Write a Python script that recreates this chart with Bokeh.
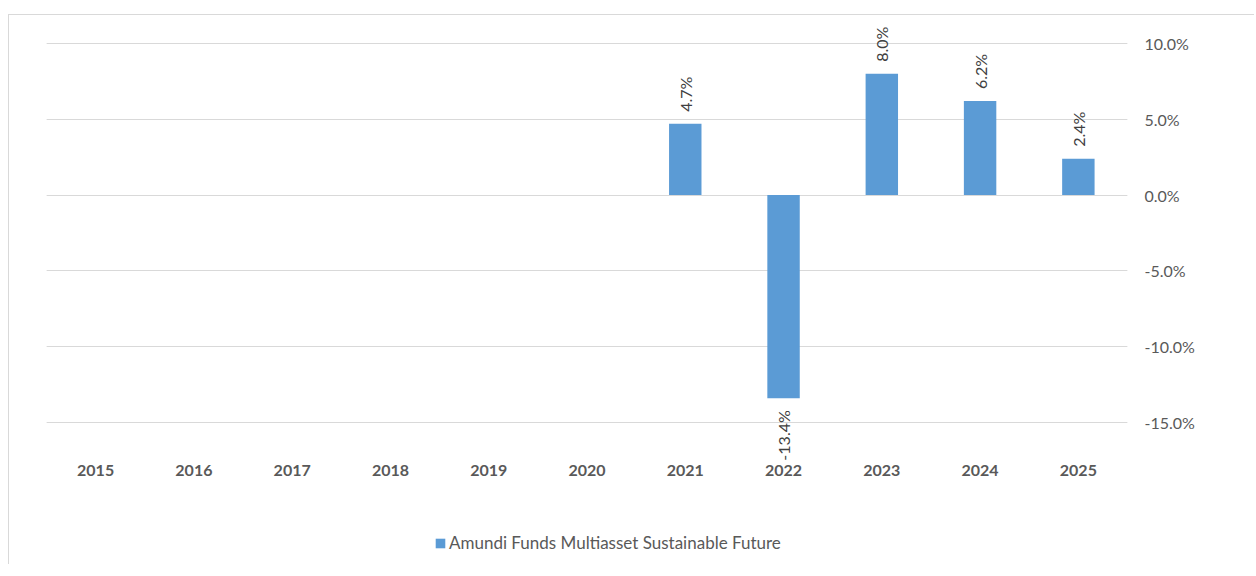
from bokeh.plotting import figure
from bokeh.layouts import column
from bokeh.models import (FactorRange, ColumnDataSource, LabelSet, FixedTicker, Grid,
                          NumeralTickFormatter, LinearAxis, Legend, LegendItem, Range1d)
from bokeh.core.properties import value
from bokeh.embed import file_html
from bokeh.resources import INLINE
import math

years = ["2015", "2016", "2017", "2018", "2019", "2020", "2021", "2022", "2023", "2024", "2025"]
returns = [None, None, None, None, None, None, 0.047, -0.134, 0.080, 0.062, 0.024]
series_name = "Amundi Funds Multiasset Sustainable Future"
y_ticks = [-0.15, -0.10, -0.05, 0.0, 0.05, 0.10]

BAR = "#5B9BD5"
GRID = "#D9D9D9"
AXIS_TXT = "#595959"
LBL_TXT = "#404040"
FONT = "Lato"
FS = "16px"

bx = [y for y, v in zip(years, returns) if v is not None]
bv = [v for v in returns if v is not None]
src = ColumnDataSource(dict(x=bx, top=bv))
pos = ColumnDataSource(dict(x=[x for x, v in zip(bx, bv) if v >= 0],
                            y=[v for v in bv if v >= 0],
                            txt=[f"{v*100:.1f}%" for v in bv if v >= 0]))
neg = ColumnDataSource(dict(x=[x for x, v in zip(bx, bv) if v < 0],
                            y=[v for v in bv if v < 0],
                            txt=[f"{v*100:.1f}%" for v in bv if v < 0]))

p = figure(x_range=FactorRange(*years, range_padding=0), y_range=Range1d(-0.17507, 0.11451),
           width=1246, height=490, output_backend="svg", toolbar_location=None,
           min_border_left=37, min_border_top=6, min_border_right=128, min_border_bottom=45,
           y_axis_location=None,
           styles={"border-left": f"1px solid {GRID}", "border-top": f"1px solid {GRID}",
                   "margin-left": "8px", "margin-top": "14px"})
p.outline_line_color = None
p.background_fill_color = "white"
p.border_fill_color = "white"
p.xgrid.grid_line_color = None

r = p.vbar(x="x", top="top", bottom=0, width=0.33, source=src, color=BAR, line_color=None)

ax = LinearAxis(ticker=FixedTicker(ticks=y_ticks), formatter=NumeralTickFormatter(format="0.0%"))
ax.axis_line_color = None
ax.major_tick_line_color = None
ax.minor_tick_line_color = None
ax.major_label_standoff = 11
ax.major_label_text_font = FONT
ax.major_label_text_font_size = FS
ax.major_label_text_color = AXIS_TXT
p.add_layout(ax, "right")

g = Grid(dimension=1, ticker=FixedTicker(ticks=y_ticks), grid_line_color=GRID, grid_line_width=1,
         level="underlay")
p.add_layout(g)

xa = p.xaxis[0]
xa.axis_line_color = None
xa.major_tick_line_color = None
xa.minor_tick_line_color = None
xa.major_label_standoff = -2
xa.major_label_text_font = FONT
xa.major_label_text_font_style = "bold"
xa.major_label_text_font_size = FS
xa.major_label_text_color = AXIS_TXT

p.add_layout(LabelSet(x="x", y="y", text="txt", source=pos, angle=math.pi/2,
                      y_offset=12, text_align="left", text_baseline="middle",
                      text_font=value(FONT), text_font_size=value(FS), text_color=LBL_TXT))
p.add_layout(LabelSet(x="x", y="y", text="txt", source=neg, angle=math.pi/2,
                      y_offset=-12, text_align="right", text_baseline="middle",
                      text_font=value(FONT), text_font_size=value(FS), text_color=LBL_TXT))

# legend strip (a hidden stand-in renderer carries the bar style for the legend swatch)
lp = figure(x_range=Range1d(0, 1), y_range=Range1d(0, 1), width=1246, height=60,
            output_backend="svg", toolbar_location=None,
            x_axis_location=None, y_axis_location=None,
            min_border_left=0, min_border_right=0, min_border_top=0, min_border_bottom=0,
            styles={"border-left": f"1px solid {GRID}", "margin-left": "8px"})
lp.outline_line_color = None
lp.grid.visible = False
lsrc = ColumnDataSource(dict(x=[-9.0], top=[-9.0]))
lr = lp.vbar(x="x", top="top", width=0.33, source=lsrc, color=BAR, line_color=None)
leg = Legend(items=[LegendItem(label=series_name, renderers=[lr], index=0)], location=(388, 11),
             orientation="horizontal", padding=0, margin=0, spacing=0,
             glyph_width=12, glyph_height=12, label_standoff=3,
             label_text_font=FONT, label_text_font_size="17px", label_text_color=AXIS_TXT,
             border_line_color=None, background_fill_alpha=0)
lp.add_layout(leg, "center")

open("out.html", "w").write(file_html(column(p, lp, spacing=0), INLINE))
